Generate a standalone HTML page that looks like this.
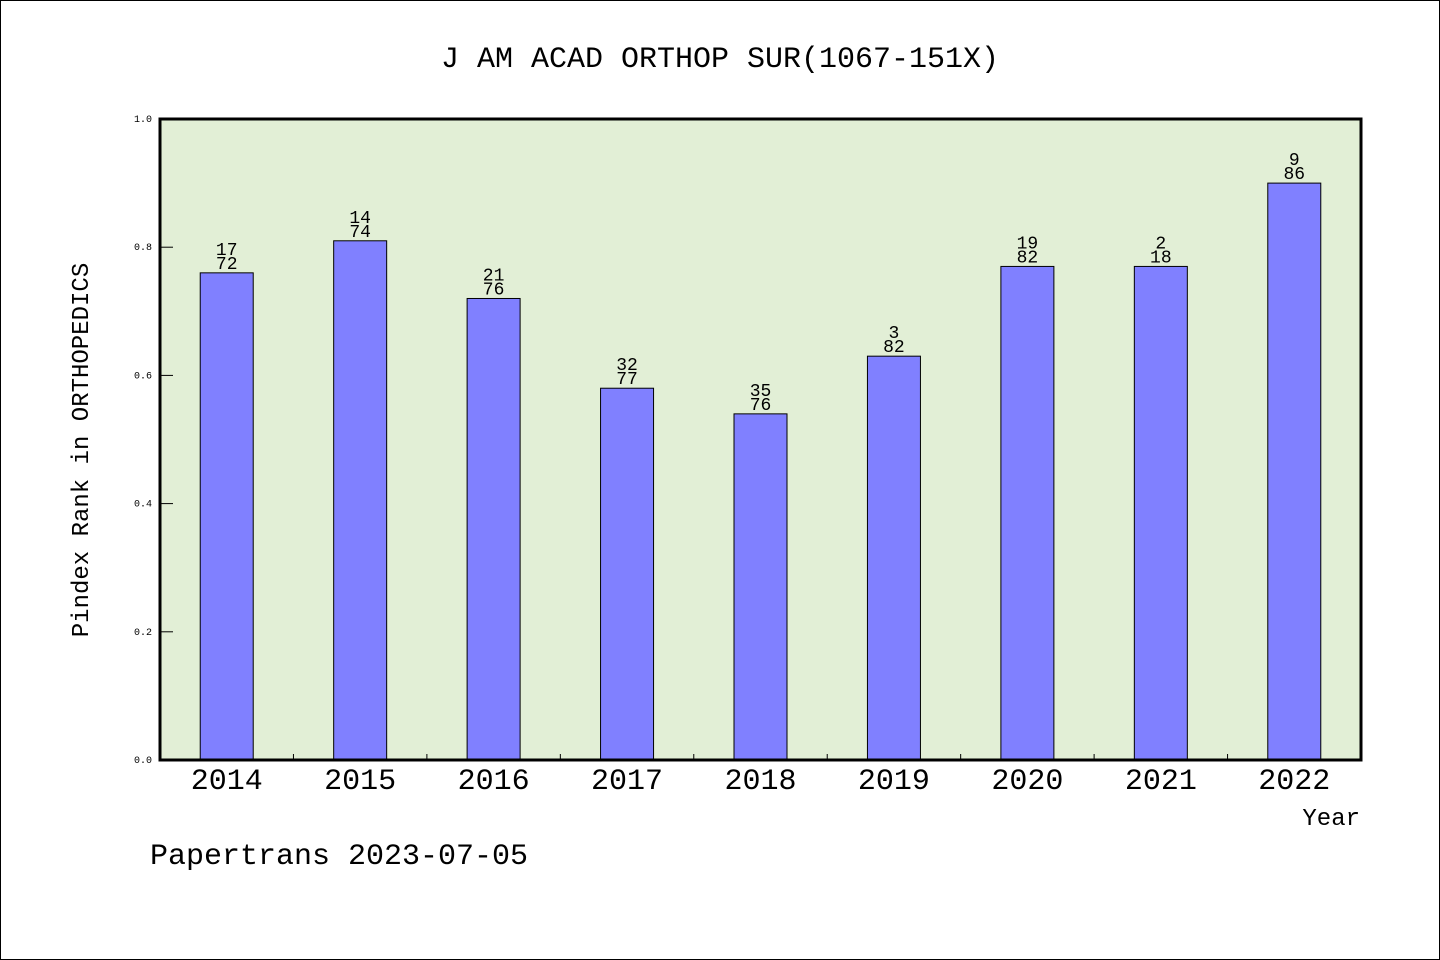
<!DOCTYPE html>
<html><head><meta charset="utf-8"><style>
html,body{margin:0;padding:0;background:#fff}
svg{display:block}
text{font-family:"WenQuanYi Zen Hei","Liberation Mono",monospace}
</style></head><body>
<svg width="1440" height="960">
<rect x="0.5" y="0.5" width="1439" height="959" fill="#fff" stroke="#000"/>
<text x="720" y="67" text-anchor="middle" font-size="30">J AM ACAD ORTHOP SUR(1067-151X)</text>
<rect x="160" y="119" width="1201" height="641" fill="#e2efd6"/>
<g id="bars"></g>
<g id="axes"></g>
<rect x="160" y="119" width="1201" height="641" fill="none" stroke="#000" stroke-width="3"/>
<text transform="translate(88,450) rotate(-90)" text-anchor="middle" font-size="24">Pindex Rank in ORTHOPEDICS</text>
<text x="1360" y="825" text-anchor="end" font-size="24">Year</text>
<text x="150" y="864" font-size="30">Papertrans 2023-07-05</text>
</svg>
<script>
const categories=["2014","2015","2016","2017","2018","2019","2020","2021","2022"];
const values=[0.76,0.81,0.72,0.58,0.54,0.63,0.77,0.77,0.90];
const ranks=["17","14","21","32","35","3","19","2","9"];
const totals=["72","74","76","77","76","82","82","18","86"];
const yTicks=[0,0.2,0.4,0.6,0.8,1.0];
const NS="http://www.w3.org/2000/svg";
const X0=160,X1=1361,Y0=760,Y1=119;
const step=(X1-X0)/categories.length;
const xc=i=>X0+step*(i+0.5);
const y=v=>Y0-(Y0-Y1)*v;
function mk(tag,attrs,parent,txt){const e=document.createElementNS(NS,tag);for(const k in attrs)e.setAttribute(k,attrs[k]);if(txt!==undefined)e.textContent=txt;parent.appendChild(e);return e;}
const bars=document.getElementById('bars'),axes=document.getElementById('axes');
categories.forEach((c,i)=>{
 const b=mk('rect',{x:xc(i)-26.5,y:y(values[i]),width:53,height:Y0-y(values[i]),fill:'#8080ff',stroke:'#000','stroke-width':1},bars);
 
 
 const t1=mk('text',{x:xc(i),y:y(values[i])-18,'text-anchor':'middle','font-size':18},bars,ranks[i]);
 
 
 const t2=mk('text',{x:xc(i),y:y(values[i])-4,'text-anchor':'middle','font-size':18},bars,totals[i]);
 
 
 const xl=mk('text',{x:xc(i),y:789,'text-anchor':'middle','font-size':30,'font-family':'Liberation Sans, sans-serif'},axes,c);
 
 
 if(i>0){const tk=mk('line',{x1:X0+step*i,x2:X0+step*i,y1:Y0,y2:Y0-6,stroke:'#000'},axes);
 
 }
});
yTicks.forEach(v=>{
 const l=mk('text',{x:152,y:y(v)+3,'text-anchor':'end','font-size':10,'font-family':'Liberation Sans, sans-serif'},axes,v.toFixed(1));
 
 
 const tk=mk('line',{x1:X0,x2:X0+13,y1:y(v),y2:y(v),stroke:'#000'},axes);
 
 
});
</script>
</body></html>
